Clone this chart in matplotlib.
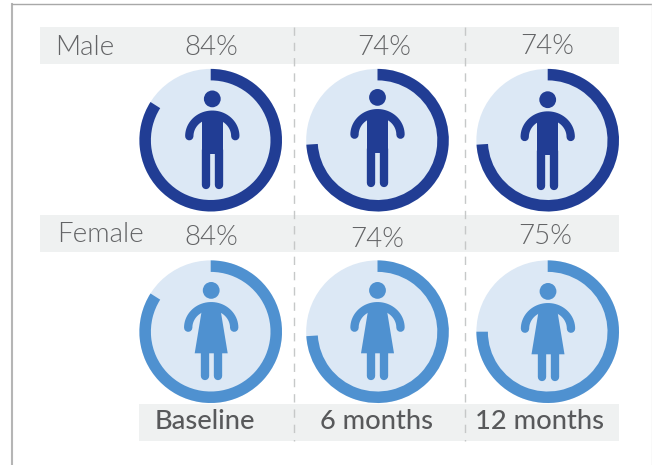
import numpy as np
import matplotlib
matplotlib.use('Agg')
import matplotlib.pyplot as plt
from matplotlib.patches import Wedge, Circle, Rectangle, Polygon

plt.rcParams['font.family'] = ['Lato', 'DejaVu Sans']

periods = ['Baseline', '6 months', '12 months']
male_pct = [84, 74, 74]
female_pct = [84, 74, 75]

DARK = '#213d94'
BLUE = '#4f91d0'
PALE = '#dce8f5'
BAND = '#eff1f1'
GREY = '#636466'

col_x = [210.7, 377.5, 547.7]
R = 71.3
RING = 11.5

# figuren sitzen nicht ganz mittig im kreis
male_shift = [(1.6, 0), (0, -1.5), (0, 0.8)]
female_shift = [(0.5, 0), (0, 0), (0.3, 1)]

fig = plt.figure(figsize=(6.52, 4.65), dpi=100)
ax = fig.add_axes([0, 0, 1, 1])
ax.set_xlim(0, 652)
ax.set_ylim(465, 0)
ax.axis('off')

# rahmen
ax.plot([12, 12], [465, 4], color='#b5b5b5', lw=1.5)
ax.plot([12, 652], [3.7, 3.7], color='#a8a8a8', lw=1.0)
ax.plot([651.5, 651.5], [4, 465], color='#e2e2e2', lw=1.0)

# graue baender
ax.add_patch(Rectangle((40, 27), 579, 37, color=BAND, lw=0))
ax.add_patch(Rectangle((40, 215), 579, 37, color=BAND, lw=0))
ax.add_patch(Rectangle((139, 404), 480, 37, color=BAND, lw=0))

for x in [293.5, 464.5]:
    ax.plot([x, x], [27, 441], color='#c6c8c8', lw=1.0, dashes=(6, 5))


def person(px, cy, color, female=False):
    ax.add_patch(Circle((px, cy - 41.3), 8.4, color=color, lw=0))
    # arme
    t = np.linspace(np.pi, 2 * np.pi, 40)
    ax.plot(px + 23 * np.cos(t), cy - 4 + 21.5 * np.sin(t), color=color, lw=6,
            solid_capstyle='round')
    if female:
        ax.add_patch(Polygon([(px - 8.5, cy - 27), (px + 8.5, cy - 27), (px + 16.5, cy + 21.6), (px - 16.5, cy + 21.6)],
                             color=color, lw=0))
    else:
        ax.add_patch(Rectangle((px - 10.3, cy - 26), 20.6, 40, color=color, lw=0))
    # beine
    for dx in [-6.5, 6.5]:
        ax.plot([px + dx, px + dx], [cy + 10, cy + 44.7], color=color, lw=6, solid_capstyle='round')


def ring(cx, cy, pct, color, shift, female=False):
    ax.add_patch(Circle((cx, cy), R, color=PALE, lw=0))
    ax.add_patch(Wedge((cx, cy), R, -90, -90 + 360 * pct / 100, width=RING, color=color, lw=0))
    person(cx + shift[0], cy + shift[1], color, female)


for i, x in enumerate(col_x):
    ring(x, 140.2, male_pct[i], DARK, male_shift[i])
    ring(x, 331.7, female_pct[i], BLUE, female_shift[i], female=True)

ax.text(85, 47.5, 'Male', fontsize=20, color=GREY, fontweight=300, ha='center', va='center')
ax.text(100, 234.5, 'Female', fontsize=20, color=GREY, fontweight=300, ha='center', va='center')

male_y = [47.5, 47.5, 46.5]
female_y = [237.5, 239.5, 236.5]
for x, m, y in zip([211, 384, 547], male_pct, male_y):
    ax.text(x, y, f'{m}%', fontsize=20, color=GREY, fontweight=300, ha='center', va='center')
for x, f, y in zip([211, 377, 545], female_pct, female_y):
    ax.text(x, y, f'{f}%', fontsize=20, color=GREY, fontweight=300, ha='center', va='center')

for x, p in zip([204.5, 376, 539.5], periods):
    ax.text(x, 421.5, p, fontsize=19.6, color='#58595b', fontweight='medium', ha='center', va='center')

plt.savefig('out.png', dpi=100)
